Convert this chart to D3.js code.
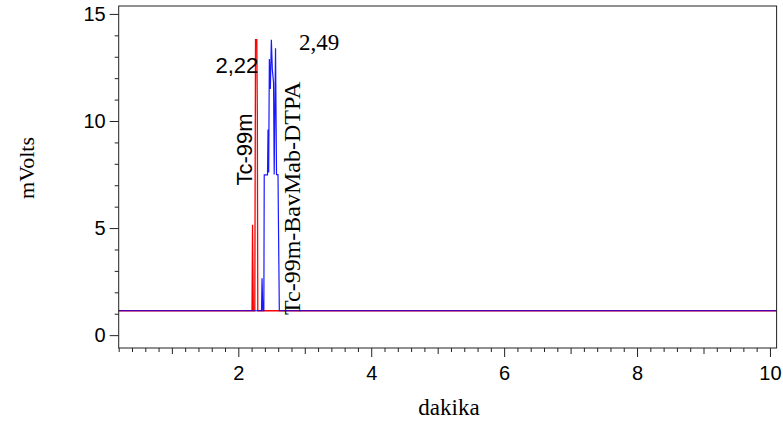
<!DOCTYPE html>
<html>
<head>
<meta charset="utf-8">
<script src="https://cdn.jsdelivr.net/npm/d3@7"></script>
<style>
  body { margin: 0; background: #fff; }
  svg { display: block; }
</style>
</head>
<body>
<div id="chart"></div>
<script>
// chromatogram traces, time in minutes (dakika), signal in mVolts
const redTime = [0.2, 2.206, 2.214, 2.226, 2.248, 2.259, 2.278, 2.286, 2.293, 10.1];
const redVolts = [1.14, 1.14, 5.15, 1.14, 1.14, 13.8, 13.8, 10.4, 1.14, 1.14];

const blueTime = [0.2, 2.349, 2.357, 2.369, 2.384, 2.390, 2.439, 2.447, 2.457, 2.467, 2.482,
                  2.497, 2.512, 2.530, 2.540, 2.560, 2.575, 2.597, 2.617, 10.1];
const blueVolts = [1.14, 1.14, 2.66, 1.14, 1.14, 7.48, 7.48, 9.6, 7.6, 12.9, 11.5,
                   13.79, 12.4, 11.8, 7.5, 13.4, 7.5, 7.5, 1.14, 1.14];

const xMajor = [2, 4, 6, 8, 10];
const yMajor = [0, 5, 10, 15];

// peak annotations
const peakLabels = ["2,22", "2,49"];
const peakNames = ["Tc-99m", "Tc-99m-BavMab-DTPA"];

const width = 783, height = 423;
const plotLeft = 118.7, plotRight = 776.6, plotTop = 6, plotBottom = 348;

const svg = d3.select("#chart").append("svg")
    .attr("width", width)
    .attr("height", height);

const x = d3.scaleLinear().domain([0.2, 10.1]).range([plotLeft, plotRight]);
const y = d3.scaleLinear().domain([-0.6, 15.37]).range([plotBottom, plotTop]);

const sans = "'Liberation Sans', Arial, sans-serif";
const serif = "'Liberation Serif', 'Times New Roman', serif";

// traces
const line = d3.line().x(d => x(d[0])).y(d => y(d[1]));

svg.append("path")
    .datum(d3.zip(redTime, redVolts))
    .attr("d", line)
    .attr("fill", "none")
    .attr("stroke", "#ff0000")
    .attr("stroke-width", 1.3);

svg.append("path")
    .datum(d3.zip(blueTime, blueVolts))
    .attr("d", line)
    .attr("fill", "none")
    .attr("stroke", "#0000ff")
    .attr("stroke-width", 1.2)
    .attr("stroke-opacity", 0.9);

// frame
svg.append("rect")
    .attr("x", plotLeft).attr("y", plotTop)
    .attr("width", plotRight - plotLeft).attr("height", plotBottom - plotTop)
    .attr("fill", "none")
    .attr("stroke", "#222")
    .attr("stroke-width", 1);

// y axis
const yMinor = d3.range(0, 16, 1).filter(v => !yMajor.includes(v));
const yAxisG = svg.append("g").attr("transform", `translate(${plotLeft},0)`);
yAxisG.call(d3.axisLeft(y).tickValues(yMinor).tickSize(4).tickFormat(""));
yAxisG.call(g => g.select(".domain").remove());
const yAxisG2 = svg.append("g").attr("transform", `translate(${plotLeft},0)`);
yAxisG2.call(d3.axisLeft(y).tickValues(yMajor).tickSize(9).tickPadding(4).tickFormat(d3.format("d")));
yAxisG2.call(g => g.select(".domain").remove());

// x axis
const xMinor = d3.range(0.2, 10.11, 0.2).map(v => +v.toFixed(1)).filter(v => !Number.isInteger(v));
const xOdd = [1, 3, 5, 7, 9];
const xg1 = svg.append("g").attr("transform", `translate(0,${plotBottom})`);
xg1.call(d3.axisBottom(x).tickValues(xMinor).tickSize(4).tickFormat(""));
xg1.call(g => g.select(".domain").remove());
const xg2 = svg.append("g").attr("transform", `translate(0,${plotBottom})`);
xg2.call(d3.axisBottom(x).tickValues(xOdd).tickSize(6).tickFormat(""));
xg2.call(g => g.select(".domain").remove());
const xg3 = svg.append("g").attr("transform", `translate(0,${plotBottom})`);
xg3.call(d3.axisBottom(x).tickValues(xMajor).tickSize(9).tickPadding(9).tickFormat(d3.format("d")));
xg3.call(g => g.select(".domain").remove());

svg.selectAll(".tick line").attr("stroke", "#222");
svg.selectAll(".tick text")
    .attr("fill", "#000")
    .style("font-family", sans)
    .style("font-size", "20px");

// axis titles
svg.append("text")
    .attr("transform", `translate(34,168) rotate(-90)`)
    .attr("text-anchor", "middle")
    .style("font-family", serif)
    .style("font-size", "22px")
    .text("mVolts");

svg.append("text")
    .attr("x", 449).attr("y", 415)
    .attr("text-anchor", "middle")
    .style("font-family", serif)
    .style("font-size", "23px")
    .text("dakika");

// peak retention times
svg.append("text")
    .attr("x", 215.5).attr("y", 73)
    .style("font-family", sans)
    .style("font-size", "22px")
    .text(peakLabels[0]);

svg.append("text")
    .attr("x", 299).attr("y", 49.5)
    .style("font-family", serif)
    .style("font-size", "23px")
    .text(peakLabels[1]);

// peak names, vertical
svg.append("text")
    .attr("transform", `translate(251.5,185.5) rotate(-90)`)
    .style("font-family", sans)
    .style("font-size", "22px")
    .text(peakNames[0]);

svg.append("text")
    .attr("transform", `translate(299.5,315) rotate(-90)`)
    .style("font-family", serif)
    .style("font-size", "24px")
    .text(peakNames[1]);
</script>
</body>
</html>
